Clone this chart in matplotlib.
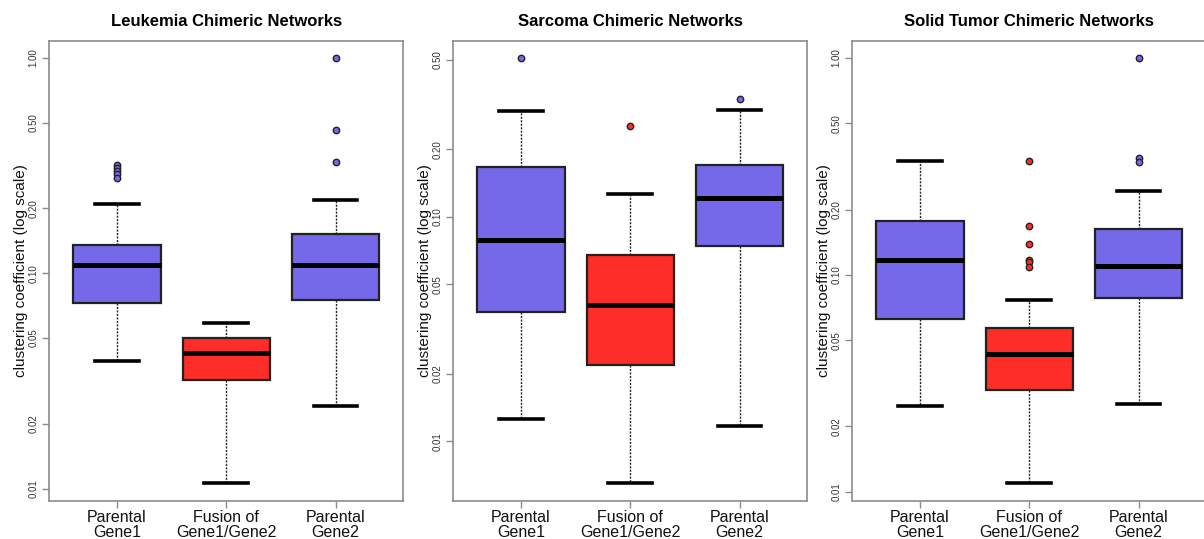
import numpy as np
import matplotlib
matplotlib.use("Agg")
import matplotlib.pyplot as plt

plt.rcParams['font.family'] = ['Liberation Sans', 'DejaVu Sans']

# categories and titles
groups = ['Parental\nGene1', 'Fusion of\nGene1/Gene2', 'Parental\nGene2']
titles = ['Leukemia Chimeric Networks',
          'Sarcoma Chimeric Networks',
          'Solid Tumor Chimeric Networks']
ylabel = 'clustering coefficient (log scale)'

# box summaries: [whislo, q1, med, q3, whishi]
leukemia_stats = [[0.0391, 0.0731, 0.1094, 0.136, 0.2103],
                  [0.01056, 0.0319, 0.0426, 0.0498, 0.0588],
                  [0.0241, 0.0749, 0.1094, 0.1528, 0.2194]]
leukemia_fliers = [[0.318, 0.309, 0.300, 0.289, 0.277],
                   [],
                   [0.329, 0.462, 1.0]]

sarcoma_stats = [[0.01253, 0.0378, 0.079, 0.1668, 0.296],
                 [0.0065, 0.022, 0.0406, 0.0678, 0.1265],
                 [0.01166, 0.0743, 0.1214, 0.170, 0.299]]
sarcoma_fliers = [[0.509],
                  [0.2537],
                  [0.334]]

solid_stats = [[0.0249, 0.0629, 0.1169, 0.1778, 0.335],
               [0.01092, 0.0296, 0.0433, 0.0572, 0.0767],
               [0.0255, 0.0786, 0.1104, 0.1633, 0.2427]]
solid_fliers = [[],
                [0.335, 0.1686, 0.139, 0.1172, 0.1144, 0.1092],
                [1.0, 0.3466, 0.332]]

yticks_12 = [0.01, 0.02, 0.05, 0.10, 0.20, 0.50, 1.00]
yticks_2 = [0.01, 0.02, 0.05, 0.10, 0.20, 0.50]

blue = '#7569E9'
red = '#FF2D27'
box_colors = [blue, red, blue]
frame_col = '#8c8c8c'

panels = [(titles[0], leukemia_stats, leukemia_fliers, yticks_12),
          (titles[1], sarcoma_stats, sarcoma_fliers, yticks_2),
          (titles[2], solid_stats, solid_fliers, yticks_12)]

fig = plt.figure(figsize=(12.04, 5.39), dpi=100)
W, H = 1204.0, 539.0
lefts = [49.3, 453.3, 852.3]
ax_w = 354.0
ax_top, ax_bot = 41.0, 500.5

for left, (title, stats, fliers, yt) in zip(lefts, panels):
    ax = fig.add_axes([left / W, (H - ax_bot) / H, ax_w / W, (ax_bot - ax_top) / H])
    bstats = []
    for s, f in zip(stats, fliers):
        bstats.append(dict(whislo=s[0], q1=s[1], med=s[2], q3=s[3],
                           whishi=s[4], fliers=f))
    res = ax.bxp(bstats, positions=[1, 2, 3], widths=0.8, patch_artist=True,
                 showfliers=True,
                 boxprops=dict(edgecolor='#222222', linewidth=1.6),
                 medianprops=dict(color='black', linewidth=3.6, solid_capstyle='butt'),
                 whiskerprops=dict(color='#222222', linewidth=1.0, linestyle=(0, (1.5, 1.0))),
                 capprops=dict(color='black', linewidth=2.6),
                 flierprops=dict(marker='o', markersize=4.6, markeredgecolor='#222222',
                                 markeredgewidth=1.0))
    for patch, c in zip(res['boxes'], box_colors):
        patch.set_facecolor(c)
    for fl, c in zip(res['fliers'], box_colors):
        fl.set_markerfacecolor(c)

    ax.set_yscale('log')
    # R style 4% range extension in log space
    lo = min(min(s[0] for s in stats), min(min(f) for f in fliers if f))
    hi = max(max(s[4] for s in stats), max(max(f) for f in fliers if f))
    llo, lhi = np.log10(lo), np.log10(hi)
    pad = 0.04 * (lhi - llo)
    ax.set_ylim(10 ** (llo - pad), 10 ** (lhi + pad))
    ax.set_xlim(0.38, 3.62)

    ax.yaxis.set_minor_locator(matplotlib.ticker.NullLocator())
    ax.set_yticks(yt)
    ax.set_yticklabels(['%.2f' % v for v in yt], rotation=90, va='center')
    ax.set_xticks([1, 2, 3])
    ax.set_xticklabels(groups, linespacing=0.95)

    ax.tick_params(axis='y', colors=frame_col, labelcolor='#333333', labelsize=7,
                   length=5, width=1, pad=3)
    ax.tick_params(axis='x', colors=frame_col, labelcolor='#111111', labelsize=11.5,
                   length=5, width=1, pad=2)
    for sp in ax.spines.values():
        sp.set_color(frame_col)
        sp.set_linewidth(1.2)

    ax.set_ylabel(ylabel, fontsize=11, color='#111111', labelpad=0)
    ax.set_title(title, fontsize=12, fontweight='bold', pad=11)

fig.savefig('out.png', dpi=100)
